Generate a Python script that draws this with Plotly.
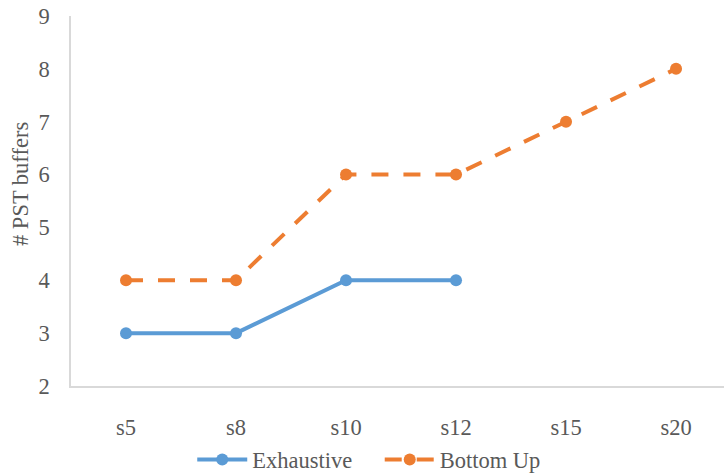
import plotly.graph_objects as go

categories = ["s5", "s8", "s10", "s12", "s15", "s20"]
exhaustive = [3, 3, 4, 4]
bottom_up = [4, 4, 6, 6, 7, 8]

BLUE = "#5B9BD5"
ORANGE = "#ED7D31"
TEXT = "#595959"
AXIS = "#D9D9D9"
FONT = "Liberation Serif"
FSIZE = 22.5

fig = go.Figure()
fig.add_trace(go.Scatter(
    x=categories[:len(exhaustive)], y=exhaustive, name="Exhaustive\u2003",
    mode="lines+markers",
    line=dict(color=BLUE, width=4),
    marker=dict(color=BLUE, size=12),
))
fig.add_trace(go.Scatter(
    x=categories, y=bottom_up, name="Bottom Up",
    mode="lines+markers",
    line=dict(color=ORANGE, width=4, dash="17px,15px"),
    marker=dict(color=ORANGE, size=12),
))

fig.update_layout(
    width=724, height=474,
    margin=dict(l=71, r=0, t=16, b=88, autoexpand=False),
    paper_bgcolor="white", plot_bgcolor="white",
    font=dict(family=FONT, size=FSIZE, color=TEXT),
    showlegend=True,
    legend=dict(orientation="h", xref="container", yref="container",
                x=0.51, xanchor="center", y=0.03, yanchor="middle",
                bgcolor="rgba(0,0,0,0)",
                font=dict(family=FONT, size=FSIZE, color=TEXT),
                itemwidth=50, tracegroupgap=0),
)
fig.update_xaxes(
    type="category", categoryorder="array", categoryarray=categories,
    range=[-0.5, 5.436],
    showline=True, linecolor=AXIS, linewidth=1.5,
    showgrid=False, zeroline=False, ticks="",
    ticklabelstandoff=20,
    tickfont=dict(family=FONT, size=FSIZE, color=TEXT),
)
fig.update_yaxes(
    range=[2, 9], dtick=1, tick0=2,
    showline=True, linecolor=AXIS, linewidth=1.5,
    showgrid=False, zeroline=False, ticks="",
    ticklabelstandoff=15,
    tickfont=dict(family=FONT, size=FSIZE, color=TEXT),
)
fig.add_annotation(
    text="# PST buffers", xref="paper", yref="paper",
    x=-51 / 653, y=(386 - 184) / 370, xanchor="center", yanchor="middle",
    textangle=-90, showarrow=False,
    font=dict(family=FONT, size=FSIZE, color=TEXT),
)

fig.write_html("out.html")
